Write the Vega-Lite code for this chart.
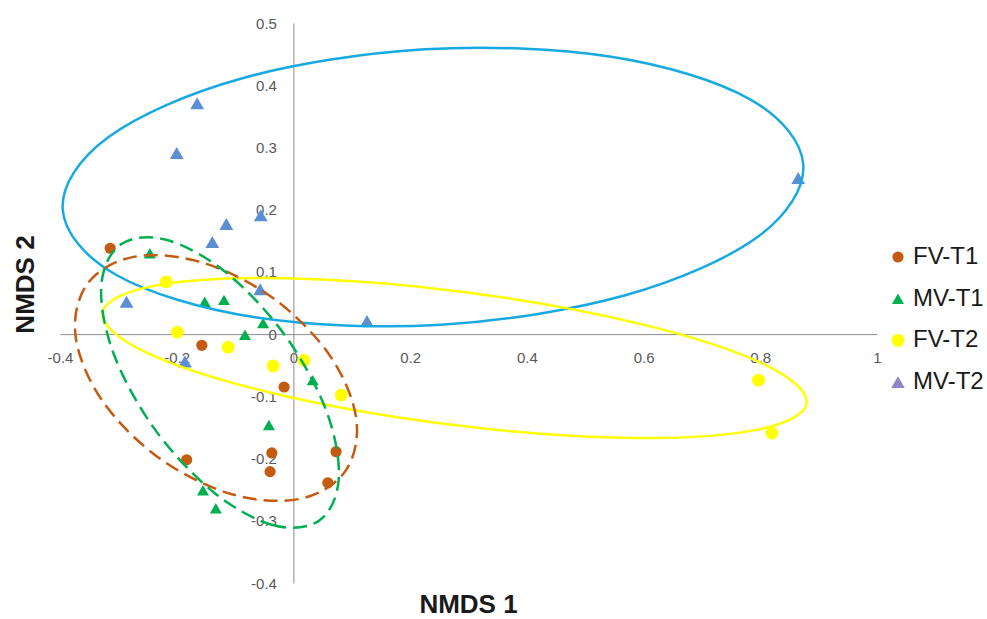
{
  "$schema": "https://vega.github.io/schema/vega-lite/v6.json",
  "autosize": {"type": "none"},
  "width": 817,
  "height": 560,
  "padding": {"left": 60, "top": 23, "right": 110, "bottom": 36},
  "background": "white",
  "config": {
    "view": {"stroke": null},
    "axis": {
      "grid": false, "ticks": false, "domainColor": "#8c8c8c", "domainWidth": 1,
      "labelColor": "#595959", "labelFont": "Liberation Sans", "labelFontSize": 15, "labelFlush": false,
      "titleFont": "Liberation Sans", "titleFontSize": 26, "titleFontWeight": "bold", "titleColor": "#1a1a1a"
    }
  },
  "datasets": {
    "pts": [
      {"g": "FV-T1", "x": -0.314, "y": 0.138}, {"g": "FV-T1", "x": -0.157, "y": -0.018}, {"g": "FV-T1", "x": -0.016, "y": -0.085},
      {"g": "FV-T1", "x": -0.037, "y": -0.191}, {"g": "FV-T1", "x": -0.040, "y": -0.221}, {"g": "FV-T1", "x": 0.073, "y": -0.189},
      {"g": "FV-T1", "x": 0.059, "y": -0.239}, {"g": "FV-T1", "x": -0.183, "y": -0.202},
      {"g": "MV-T1", "x": -0.246, "y": 0.130}, {"g": "MV-T1", "x": -0.152, "y": 0.052}, {"g": "MV-T1", "x": -0.119, "y": 0.055},
      {"g": "MV-T1", "x": -0.083, "y": -0.001}, {"g": "MV-T1", "x": -0.052, "y": 0.018}, {"g": "MV-T1", "x": 0.033, "y": -0.074},
      {"g": "MV-T1", "x": -0.042, "y": -0.146}, {"g": "MV-T1", "x": -0.155, "y": -0.251}, {"g": "MV-T1", "x": -0.133, "y": -0.280},
      {"g": "FV-T2", "x": -0.218, "y": 0.084}, {"g": "FV-T2", "x": -0.199, "y": 0.003}, {"g": "FV-T2", "x": -0.112, "y": -0.021},
      {"g": "FV-T2", "x": -0.035, "y": -0.051}, {"g": "FV-T2", "x": 0.018, "y": -0.042}, {"g": "FV-T2", "x": 0.082, "y": -0.098},
      {"g": "FV-T2", "x": 0.797, "y": -0.074}, {"g": "FV-T2", "x": 0.820, "y": -0.159},
      {"g": "MV-T2", "x": 0.865, "y": 0.251}, {"g": "MV-T2", "x": -0.165, "y": 0.371}, {"g": "MV-T2", "x": -0.200, "y": 0.291},
      {"g": "MV-T2", "x": -0.115, "y": 0.177}, {"g": "MV-T2", "x": -0.139, "y": 0.148}, {"g": "MV-T2", "x": -0.056, "y": 0.191},
      {"g": "MV-T2", "x": -0.057, "y": 0.072}, {"g": "MV-T2", "x": -0.286, "y": 0.052}, {"g": "MV-T2", "x": 0.126, "y": 0.021},
      {"g": "MV-T2", "x": -0.186, "y": -0.044}
    ],
    "ell": [
      {"e": "MV-T2", "i": 0, "x": 0.8737, "y": 0.2718}, {"e": "MV-T2", "i": 1, "x": 0.7957, "y": 0.1564},
      {"e": "MV-T2", "i": 2, "x": 0.5687, "y": 0.0624}, {"e": "MV-T2", "i": 3, "x": 0.2532, "y": 0.0150},
      {"e": "MV-T2", "i": 4, "x": -0.0660, "y": 0.0270}, {"e": "MV-T2", "i": 5, "x": -0.3034, "y": 0.0950},
      {"e": "MV-T2", "i": 6, "x": -0.3954, "y": 0.2011}, {"e": "MV-T2", "i": 7, "x": -0.3174, "y": 0.3165},
      {"e": "MV-T2", "i": 8, "x": -0.0904, "y": 0.4105}, {"e": "MV-T2", "i": 9, "x": 0.2251, "y": 0.4578},
      {"e": "MV-T2", "i": 10, "x": 0.5444, "y": 0.4458}, {"e": "MV-T2", "i": 11, "x": 0.7817, "y": 0.3778},
      {"e": "FV-T2", "i": 0, "x": 0.8794, "y": -0.1109}, {"e": "FV-T2", "i": 1, "x": 0.7913, "y": -0.1543},
      {"e": "FV-T2", "i": 2, "x": 0.5651, "y": -0.1666}, {"e": "FV-T2", "i": 3, "x": 0.2614, "y": -0.1446},
      {"e": "FV-T2", "i": 4, "x": -0.0384, "y": -0.0942}, {"e": "FV-T2", "i": 5, "x": -0.2537, "y": -0.0288},
      {"e": "FV-T2", "i": 6, "x": -0.3273, "y": 0.0341}, {"e": "FV-T2", "i": 7, "x": -0.2391, "y": 0.0775},
      {"e": "FV-T2", "i": 8, "x": -0.0131, "y": 0.0897}, {"e": "FV-T2", "i": 9, "x": 0.2906, "y": 0.0678},
      {"e": "FV-T2", "i": 10, "x": 0.5905, "y": 0.0172}, {"e": "FV-T2", "i": 11, "x": 0.8058, "y": -0.0482},
      {"e": "MV-T1", "i": 0, "x": 0.0450, "y": -0.2991}, {"e": "MV-T1", "i": 1, "x": -0.0336, "y": -0.3073},
      {"e": "MV-T1", "i": 2, "x": -0.1368, "y": -0.2541}, {"e": "MV-T1", "i": 3, "x": -0.2372, "y": -0.1535},
      {"e": "MV-T1", "i": 4, "x": -0.3076, "y": -0.0328}, {"e": "MV-T1", "i": 5, "x": -0.3294, "y": 0.0759},
      {"e": "MV-T1", "i": 6, "x": -0.2967, "y": 0.1435}, {"e": "MV-T1", "i": 7, "x": -0.2180, "y": 0.1516},
      {"e": "MV-T1", "i": 8, "x": -0.1147, "y": 0.0984}, {"e": "MV-T1", "i": 9, "x": -0.0144, "y": -0.0021},
      {"e": "MV-T1", "i": 10, "x": 0.0562, "y": -0.1229}, {"e": "MV-T1", "i": 11, "x": 0.0777, "y": -0.2316},
      {"e": "FV-T1", "i": 0, "x": 0.0877, "y": -0.2218}, {"e": "FV-T1", "i": 1, "x": 0.0085, "y": -0.2652},
      {"e": "FV-T1", "i": 2, "x": -0.1085, "y": -0.2565}, {"e": "FV-T1", "i": 3, "x": -0.2321, "y": -0.1978},
      {"e": "FV-T1", "i": 4, "x": -0.3289, "y": -0.1052}, {"e": "FV-T1", "i": 5, "x": -0.3733, "y": -0.0032},
      {"e": "FV-T1", "i": 6, "x": -0.3531, "y": 0.0807}, {"e": "FV-T1", "i": 7, "x": -0.2739, "y": 0.1241},
      {"e": "FV-T1", "i": 8, "x": -0.1568, "y": 0.1152}, {"e": "FV-T1", "i": 9, "x": -0.0333, "y": 0.0567},
      {"e": "FV-T1", "i": 10, "x": 0.0635, "y": -0.0360}, {"e": "FV-T1", "i": 11, "x": 0.1079, "y": -0.1379}
    ]
  },
  "encoding": {
    "x": {
      "field": "x", "type": "quantitative",
      "scale": {"domain": [-0.4, 1], "nice": false, "zero": false},
      "axis": {
        "orient": "bottom", "offset": -248.9, "values": [-0.4, -0.2, 0, 0.2, 0.4, 0.6, 0.8, 1],
        "labelExpr": "'' + datum.value", "labelPadding": 16,
        "title": "NMDS 1", "titleX": 408, "titleY": 270, "titleBaseline": "middle", "titleAlign": "center"
      }
    },
    "y": {
      "field": "y", "type": "quantitative",
      "scale": {"domain": [-0.4, 0.5], "nice": false, "zero": false},
      "axis": {
        "orient": "left", "offset": -233.4, "values": [-0.4, -0.3, -0.2, -0.1, 0, 0.1, 0.2, 0.3, 0.4, 0.5],
        "labelExpr": "'' + datum.value", "labelPadding": 17,
        "title": "NMDS 2", "titleX": -268, "titleY": 261, "titleAngle": 270, "titleBaseline": "middle", "titleAlign": "center"
      }
    }
  },
  "layer": [
    {
      "data": {"name": "pts"},
      "transform": [{"filter": "datum.g !== 'MV-T2'"}],
      "mark": {"type": "point", "filled": true, "opacity": 1},
      "encoding": {
        "color": {
          "field": "g", "type": "nominal",
          "scale": {"domain": ["FV-T1", "MV-T1", "FV-T2", "MV-T2"], "range": ["#C55A11", "#00B050", "#FFFF00", "#8E86CB"]},
          "legend": {"orient": "none", "legendX": 826, "legendY": 222, "title": null, "labelFont": "Liberation Sans", "labelFontSize": 24, "labelColor": "#1a1a1a", "symbolSize": 90, "rowPadding": 17.7, "labelOffset": 3, "symbolStrokeWidth": 0}
        },
        "shape": {
          "field": "g", "type": "nominal",
          "scale": {"domain": ["FV-T1", "MV-T1", "FV-T2", "MV-T2"], "range": ["circle", "triangle-up", "circle", "triangle-up"]},
          "legend": {"orient": "none", "legendX": 826, "legendY": 222, "title": null, "labelFont": "Liberation Sans", "labelFontSize": 24, "labelColor": "#1a1a1a", "symbolSize": 90, "rowPadding": 17.7, "labelOffset": 3, "symbolStrokeWidth": 0}
        },
        "size": {
          "field": "g", "type": "nominal",
          "scale": {"domain": ["FV-T1", "MV-T1", "FV-T2", "MV-T2"], "range": [125, 185, 125, 185]},
          "legend": null
        }
      }
    },
    {
      "data": {"name": "pts"},
      "transform": [{"filter": "datum.g === 'MV-T2'"}],
      "mark": {"type": "point", "filled": true, "opacity": 1, "size": 190, "shape": "triangle-up", "color": "#5B8FD2"},
      "encoding": {}
    },
    {
      "data": {"name": "ell"},
      "transform": [{"filter": "datum.e === 'MV-T2'"}],
      "mark": {"type": "line", "interpolate": "cardinal-closed", "color": "#17A9E1", "strokeWidth": 2.5},
      "encoding": {"order": {"field": "i", "type": "quantitative"}}
    },
    {
      "data": {"name": "ell"},
      "transform": [{"filter": "datum.e === 'FV-T2'"}],
      "mark": {"type": "line", "interpolate": "cardinal-closed", "color": "#FFFF00", "strokeWidth": 2.5},
      "encoding": {"order": {"field": "i", "type": "quantitative"}}
    },
    {
      "data": {"name": "ell"},
      "transform": [{"filter": "datum.e === 'FV-T1'"}],
      "mark": {"type": "line", "interpolate": "cardinal-closed", "color": "#C55A11", "strokeWidth": 2.5, "strokeDash": [14, 7]},
      "encoding": {"order": {"field": "i", "type": "quantitative"}}
    },
    {
      "data": {"name": "ell"},
      "transform": [{"filter": "datum.e === 'MV-T1'"}],
      "mark": {"type": "line", "interpolate": "cardinal-closed", "color": "#00B050", "strokeWidth": 2.5, "strokeDash": [14, 7]},
      "encoding": {"order": {"field": "i", "type": "quantitative"}}
    }
  ]
}
